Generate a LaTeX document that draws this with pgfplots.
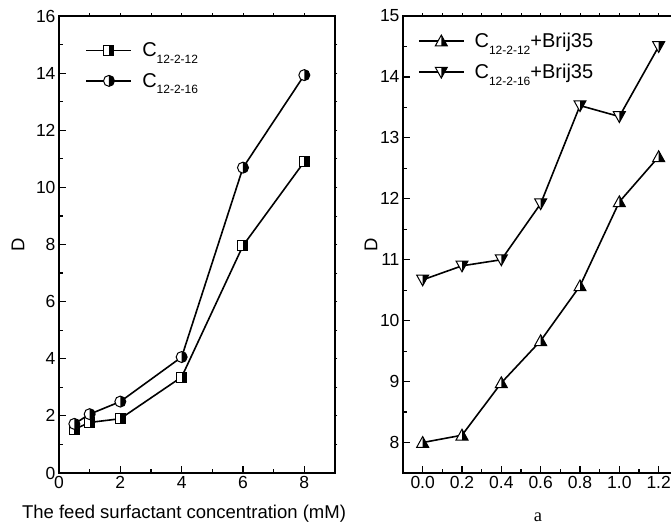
\documentclass[border=0pt]{standalone}
\usepackage{fontspec}
\setmainfont{Liberation Sans}
\newfontfamily\seriffont{Liberation Serif}
\usepackage{pgfplots}
\pgfplotsset{compat=1.18}

% half-filled marks (right half black)
\pgfdeclareplotmark{hsq}{%
  \pgfpathrectangle{\pgfpoint{-\pgfplotmarksize}{-\pgfplotmarksize}}{\pgfpoint{2\pgfplotmarksize}{2\pgfplotmarksize}}%
  \pgfsetfillcolor{white}\pgfusepathqfill
  \pgfpathrectangle{\pgfpoint{0pt}{-\pgfplotmarksize}}{\pgfpoint{\pgfplotmarksize}{2\pgfplotmarksize}}%
  \pgfsetfillcolor{black}\pgfusepathqfill
  \pgfpathrectangle{\pgfpoint{-\pgfplotmarksize}{-\pgfplotmarksize}}{\pgfpoint{2\pgfplotmarksize}{2\pgfplotmarksize}}%
  \pgfusepathqstroke}
\pgfdeclareplotmark{hci}{%
  \pgfpathcircle{\pgfpointorigin}{\pgfplotmarksize}%
  \pgfsetfillcolor{white}\pgfusepathqfill
  \pgfpathmoveto{\pgfpoint{0pt}{-\pgfplotmarksize}}%
  \pgfpatharc{-90}{90}{\pgfplotmarksize}\pgfpathclose
  \pgfsetfillcolor{black}\pgfusepathqfill
  \pgfpathcircle{\pgfpointorigin}{\pgfplotmarksize}%
  \pgfusepathqstroke}
\pgfdeclareplotmark{htu}{%
  \pgfpathmoveto{\pgfpoint{0pt}{\pgfplotmarksize}}%
  \pgfpathlineto{\pgfpoint{\pgfplotmarksize}{-0.8\pgfplotmarksize}}%
  \pgfpathlineto{\pgfpoint{-\pgfplotmarksize}{-0.8\pgfplotmarksize}}\pgfpathclose
  \pgfsetfillcolor{white}\pgfusepathqfill
  \pgfpathmoveto{\pgfpoint{0pt}{\pgfplotmarksize}}%
  \pgfpathlineto{\pgfpoint{\pgfplotmarksize}{-0.8\pgfplotmarksize}}%
  \pgfpathlineto{\pgfpoint{0pt}{-0.8\pgfplotmarksize}}\pgfpathclose
  \pgfsetfillcolor{black}\pgfusepathqfill
  \pgfpathmoveto{\pgfpoint{0pt}{\pgfplotmarksize}}%
  \pgfpathlineto{\pgfpoint{\pgfplotmarksize}{-0.8\pgfplotmarksize}}%
  \pgfpathlineto{\pgfpoint{-\pgfplotmarksize}{-0.8\pgfplotmarksize}}\pgfpathclose
  \pgfusepathqstroke}
\pgfdeclareplotmark{htd}{%
  \pgfpathmoveto{\pgfpoint{0pt}{-\pgfplotmarksize}}%
  \pgfpathlineto{\pgfpoint{\pgfplotmarksize}{0.8\pgfplotmarksize}}%
  \pgfpathlineto{\pgfpoint{-\pgfplotmarksize}{0.8\pgfplotmarksize}}\pgfpathclose
  \pgfsetfillcolor{white}\pgfusepathqfill
  \pgfpathmoveto{\pgfpoint{0pt}{-\pgfplotmarksize}}%
  \pgfpathlineto{\pgfpoint{\pgfplotmarksize}{0.8\pgfplotmarksize}}%
  \pgfpathlineto{\pgfpoint{0pt}{0.8\pgfplotmarksize}}\pgfpathclose
  \pgfsetfillcolor{black}\pgfusepathqfill
  \pgfpathmoveto{\pgfpoint{0pt}{-\pgfplotmarksize}}%
  \pgfpathlineto{\pgfpoint{\pgfplotmarksize}{0.8\pgfplotmarksize}}%
  \pgfpathlineto{\pgfpoint{-\pgfplotmarksize}{0.8\pgfplotmarksize}}\pgfpathclose
  \pgfusepathqstroke}

\newcommand\sub[1]{\raisebox{-6.5pt}{\fontsize{12}{12}\selectfont #1}}

\pgfplotsset{
  every axis/.append style={
    scale only axis, height=457pt,
    axis line style={line width=1.3pt},
    every tick/.style={line width=1.2pt, black},
    major tick length=7pt, minor tick length=4pt,
    tick align=inside, xtick pos=left, ytick pos=left,
    ticklabel style={font=\fontsize{17.5}{18}\selectfont},
    /pgf/number format/assume math mode=true,
    label style={font=\fontsize{18.5}{20}\selectfont, inner sep=0pt},
    legend style={draw=none, fill=none, inner sep=0pt, outer sep=0pt,
      anchor=north west, font=\fontsize{20}{20}\selectfont,
      row sep=11pt, column sep=8pt},
    legend image code/.code={\draw[mark repeat=2, mark phase=2, #1]
      plot coordinates {(0pt,0pt) (22.5pt,0pt) (45pt,0pt)};},
    legend cell align=left,
  },
  dat/.style={black, line width=1.6pt, mark options={solid, line width=1pt}},
  outticks/.style={scale only axis, height=457pt, tick align=outside,
    xtick pos=right, ytick pos=right, major tick length=2.5pt,
    xticklabels={}, yticklabels={}, axis line style={draw=none},
    every tick/.style={line width=0.8pt, black}},
}

\begin{document}
\begin{tikzpicture}
\useasboundingbox (-59pt,-53pt) rectangle (612pt,473pt);

% left panel
\begin{axis}[
    at={(0pt,0pt)}, width=276pt,
    xmin=0, xmax=9, ymin=0, ymax=16,
    xtick={0,2,4,6,8}, minor xtick={1,3,5,7},
    ytick={0,2,...,16}, minor ytick={1,3,...,15},
    xlabel={The feed surfactant concentration (mM)},
    xlabel style={at={(axis description cs:0.453,0)}, anchor=north, yshift=-32pt},
    ylabel={D},
    ylabel style={at={(axis description cs:-0.1486,0.5)}, anchor=center},
    legend style={at={(0.0967,0.946)}},
]
\addplot[dat, mark=hsq, mark size=5pt] coordinates {
    (0.5,1.53) (1,1.77) (2,1.90) (4,3.36) (6,7.96) (8,10.90)
};
\addlegendentry{C\sub{12-2-12}}
\addplot[dat, mark=hci, mark size=5.5pt] coordinates {
    (0.5,1.72) (1,2.06) (2,2.50) (4,4.06) (6,10.69) (8,13.93)
};
\addlegendentry{C\sub{12-2-16}}
\end{axis}
\begin{axis}[outticks, at={(0pt,0pt)}, width=276pt,
    xmin=0, xmax=9, ymin=0, ymax=16, xtick={1,...,8}, ytick={1,...,15}]
\end{axis}

% right panel
\begin{axis}[
    at={(344pt,0pt)}, width=271.4pt,
    xmin=-0.1, xmax=1.28, ymin=7.5, ymax=15,
    xtick={0,0.2,0.4,0.6,0.8,1.0,1.2}, minor xtick={0.1,0.3,0.5,0.7,0.9,1.1},
    ytick={8,...,15}, minor ytick={8.5,9.5,...,14.5},
    xticklabel style={/pgf/number format/.cd, fixed, fixed zerofill, precision=1},
    xlabel={\seriffont a},
    xlabel style={at={(axis description cs:0.497,0)}, anchor=base, yshift=-49pt},
    ylabel={D},
    ylabel style={at={(axis description cs:-0.118,0.5)}, anchor=center},
    legend style={at={(0.0553,0.967)}},
]
\addplot[dat, mark=htu, mark size=6pt] coordinates {
    (0,8.00) (0.2,8.12) (0.4,8.98) (0.6,9.67) (0.8,10.57) (1.0,11.95) (1.2,12.69)
};
\addlegendentry{C\sub{12-2-12}+Brij35}
\addplot[dat, mark=htd, mark size=6pt] coordinates {
    (0,10.67) (0.2,10.90) (0.4,11.00) (0.6,11.92) (0.8,13.53) (1.0,13.35) (1.2,14.50)
};
\addlegendentry{C\sub{12-2-16}+Brij35}
\end{axis}
\begin{axis}[outticks, at={(344pt,0pt)}, width=271.4pt,
    xmin=-0.1, xmax=1.28, ymin=7.5, ymax=15,
    xtick={0,0.1,...,1.2}, ytick={8,...,15}]
\end{axis}
\end{tikzpicture}
\end{document}
